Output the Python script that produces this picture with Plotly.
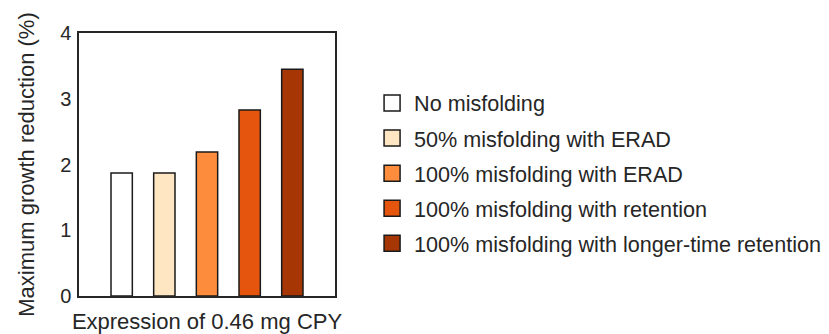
import plotly.graph_objects as go

categories = ["No misfolding", "50% misfolding with ERAD", "100% misfolding with ERAD",
              "100% misfolding with retention", "100% misfolding with longer-time retention"]
positions = [1, 2, 3, 4, 5]
values = [1.87, 1.87, 2.19, 2.83, 3.45]
colors = ["#ffffff", "#fee6c2", "#fd8d3c", "#e6550d", "#a63603"]
y_ticks = [0, 1, 2, 3, 4]
x_title = "Expression of 0.46 mg CPY"
y_title = "Maximum growth reduction (%)"

fig = go.Figure()
for i, (name, pos, val, col) in enumerate(zip(categories, positions, values, colors)):
    fig.add_trace(go.Bar(
        x=[pos], y=[val], width=0.5, name=name,
        marker=dict(color=col, line=dict(color="#1a1a1a", width=1.5)),
        showlegend=False,
    ))
    fig.add_trace(go.Scatter(
        x=[None], y=[None], mode="markers", name=name, legendgroup=f"g{i}",
        marker=dict(symbol="square", size=16, color=col, line=dict(color="#1a1a1a", width=1.5)),
    ))

font_family = "Liberation Sans, Arial, sans-serif"
fig.update_layout(
    width=821, height=326,
    margin=dict(l=71, r=494, t=25, b=38, autoexpand=False),
    paper_bgcolor="white", plot_bgcolor="white",
    font=dict(family=font_family, size=22, color="#262626"),
    barmode="overlay",
    xaxis=dict(range=[0, 6], showticklabels=False, ticks="", showgrid=False, zeroline=False,
               showline=True, linecolor="#262626", linewidth=1.5, mirror=True, automargin=False,
               title=dict(text=x_title, font=dict(size=22), standoff=18)),
    yaxis=dict(range=[0, 4], tickvals=y_ticks, ticks="", showgrid=False, zeroline=False,
               showline=True, linecolor="#262626", linewidth=1.5, mirror=True, automargin=False,
               tickfont=dict(size=20), ticklabelstandoff=2,
               title=dict(text=y_title, font=dict(size=22), standoff=19)),
    legend=dict(x=1.137, xanchor="left", y=0.812, yanchor="top", tracegroupgap=4, itemwidth=34,
                font=dict(size=21.6, color="#262626"), bgcolor="rgba(0,0,0,0)"),
    showlegend=True,
)

fig.write_html("out.html")
